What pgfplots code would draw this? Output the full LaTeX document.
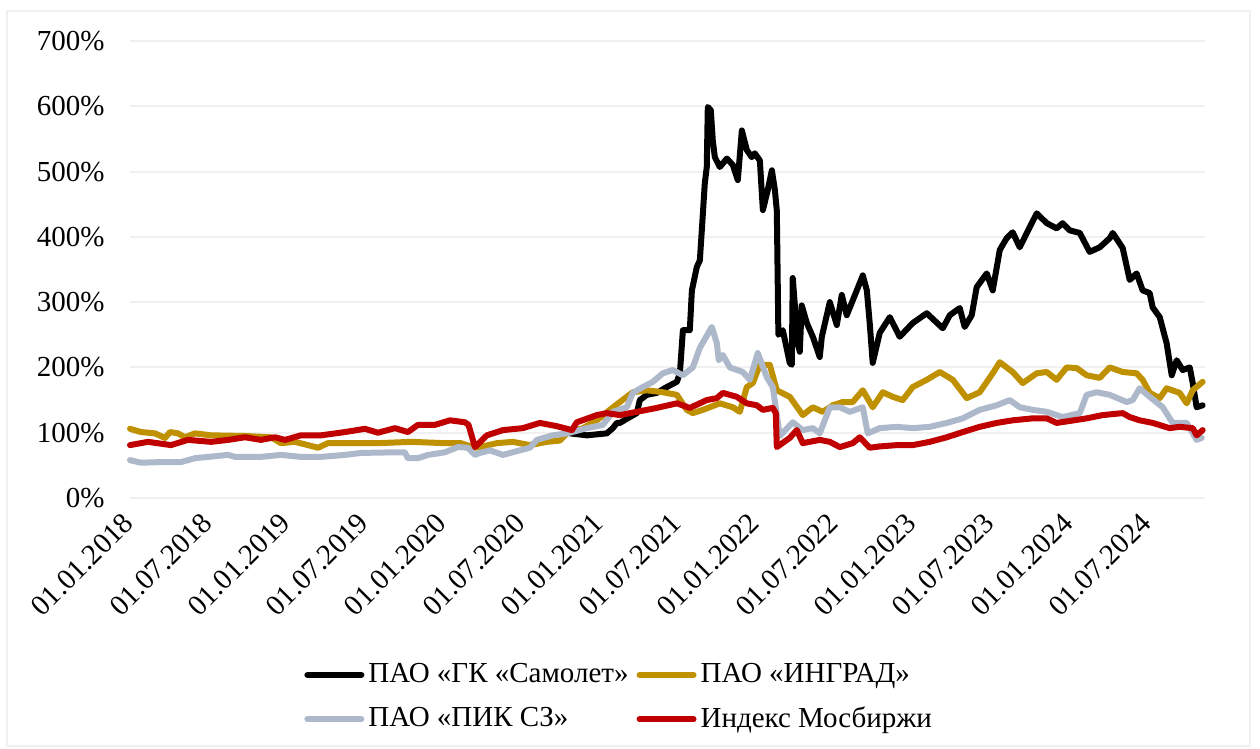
\documentclass[border=0pt]{standalone}
\usepackage{fontspec}
\setmainfont{Liberation Serif}
\usepackage{pgfplots}
\pgfplotsset{compat=1.18}
\definecolor{cgold}{HTML}{BF9000}
\definecolor{cgray}{HTML}{ADB9CA}
\definecolor{cred}{HTML}{C00000}
\definecolor{cgrid}{HTML}{F0F0F0}
\definecolor{caxis}{HTML}{D9D9D9}
\begin{document}
\fontsize{14.5}{17}\selectfont
\begin{tikzpicture}[font=\fontsize{14.5}{17}\selectfont]
\path[use as bounding box] (-65pt,-125.5pt) rectangle (565pt,249pt);
\begin{axis}[
  at={(0pt,0pt)}, anchor=south west,
  scale only axis, width=537.5pt, height=228.5pt,
  xmin=0, xmax=82.4, ymin=0, ymax=700,
  clip=false,
  axis line style={draw=none},
  major tick length=0pt,
  ytick={100,200,300,400,500,600,700},
  yticklabels={100\%,200\%,300\%,400\%,500\%,600\%,700\%},
  extra y ticks={0},
  extra y tick labels={0\%},
  extra y tick style={grid style={color=caxis, line width=1pt}},
  ymajorgrids,
  major grid style={color=cgrid, line width=1pt},
  yticklabel style={inner sep=0pt, xshift=-12.5pt},
  xtick={0,6,12,18,24,30,36,42,48,54,60,66,72,78},
  xticklabels={01.01.2018,01.07.2018,01.01.2019,01.07.2019,01.01.2020,01.07.2020,01.01.2021,01.07.2021,01.01.2022,01.07.2022,01.01.2023,01.07.2023,01.01.2024,01.07.2024},
  xticklabel style={rotate=45, anchor=north east, inner sep=0pt, xshift=-7.6pt, yshift=-1.5pt},
  tick label style={font=\fontsize{14.5}{17}\selectfont},
  legend columns=2,
  legend cell align=left,
  legend style={at={(0.456,-0.4365)}, anchor=center, draw=none, fill=none,
    font=\fontsize{14.5}{17}\selectfont, inner sep=0pt,
    nodes={inner xsep=2pt, inner ysep=2pt},
    row sep=6pt,
    /tikz/every even column/.append style={column sep=2pt}},
  legend image code/.code={\draw[#1] (0pt,0pt) -- (27pt,0pt);},
  every axis plot/.append style={line width=3pt, line join=round, line cap=round},
]
\addplot[black] coordinates {
(33.72,99) (35.02,96) (36.55,99) (37.01,107) (37.32,115) (37.55,115) (38.31,124) (38.85,130) (39.08,150) (39.62,158) (40.38,161) (41.15,170) (41.92,178) (42.15,191) (42.38,257) (42.91,257) (43.07,318) (43.45,354) (43.68,364) (43.83,410) (44.06,482) (44.21,507) (44.29,599) (44.52,594) (44.67,548) (44.83,522) (45.21,507) (45.75,520) (46.21,510) (46.59,487) (46.90,563) (47.28,533) (47.66,522) (47.89,528) (48.28,517) (48.51,441) (48.89,472) (49.20,502) (49.43,472) (49.58,440) (49.70,250) (50.04,257) (50.57,207) (50.73,204) (50.80,337) (51.19,237) (51.34,224) (51.49,295) (51.88,268) (52.34,247) (52.87,216) (53.03,247) (53.64,300) (54.18,265) (54.56,311) (54.94,280) (55.71,318) (56.17,341) (56.48,318) (56.70,268) (56.93,207) (57.47,253) (58.24,277) (59.00,247) (60.00,268) (61.07,283) (62.30,260) (62.84,280) (63.60,291) (63.98,262) (64.52,280) (64.90,323) (65.67,344) (66.13,318) (66.67,380) (67.20,398) (67.66,407) (68.20,384) (68.97,415) (69.50,436) (70.27,421) (71.03,413) (71.49,421) (72.03,410) (72.80,406) (73.56,377) (74.33,384) (75.10,398) (75.33,406) (76.09,383) (76.63,334) (77.16,344) (77.62,318) (78.16,314) (78.39,292) (78.93,277) (79.46,237) (79.85,188) (80.23,211) (80.69,196) (81.23,200) (81.46,176) (81.76,139) (82.22,142)
};
\addlegendentry{ПАО «ГК «Самолет»}
\addplot[cgold] coordinates {
(0,106) (0.84,101) (1.92,99) (2.68,92) (3.07,101) (3.68,99) (4.21,93) (4.98,99) (6.21,96) (8.81,95) (10.80,93) (11.57,84) (12.64,86) (13.64,81) (14.41,77) (15.17,84) (16.48,84) (19.00,84) (21.53,86) (24.14,84) (25.36,84) (26.44,77) (26.82,78) (28.12,84) (29.35,86) (30.65,81) (31.95,86) (32.95,88) (33.49,99) (34.71,107) (35.79,119) (36.78,135) (37.55,147) (38.54,162) (39.62,165) (40.84,162) (41.92,158) (42.68,135) (43.14,130) (43.91,135) (45.21,145) (46.21,139) (46.74,132) (47.28,170) (47.74,176) (48.28,204) (49.04,204) (49.58,165) (50.57,155) (51.57,127) (52.34,139) (53.10,132) (53.87,142) (54.64,147) (55.40,147) (56.17,165) (56.93,139) (57.70,162) (58.47,155) (59.23,150) (60.00,170) (61.07,181) (62.07,193) (63.07,181) (64.14,153) (65.13,162) (66.13,191) (66.67,208) (67.66,193) (68.43,176) (69.50,191) (70.27,193) (71.03,181) (71.80,200) (72.57,199) (73.33,188) (74.33,184) (75.10,200) (76.09,193) (77.16,191) (77.62,181) (78.16,161) (78.93,153) (79.46,168) (80.46,161) (81.00,145) (81.46,165) (82.22,178)
};
\addlegendentry{ПАО «ИНГРАД»}
\addplot[cgray] coordinates {
(0,58) (0.84,54) (2.38,55) (3.91,55) (4.98,61) (7.51,66) (8.05,63) (10.04,63) (11.57,66) (13.10,63) (14.64,63) (16.48,66) (17.70,69) (20.31,70) (21.07,70) (21.30,61) (22.07,61) (22.84,66) (24.14,70) (25.13,78) (25.90,77) (26.44,66) (26.82,69) (27.59,73) (28.58,66) (29.89,73) (30.65,77) (31.19,89) (32.41,96) (33.49,99) (35.02,107) (36.25,112) (37.01,132) (38.08,139) (38.54,161) (39.31,170) (40.08,178) (40.84,191) (41.61,196) (42.38,188) (43.14,200) (43.68,230) (44.60,262) (44.98,237) (45.13,211) (45.44,219) (45.98,200) (46.97,193) (47.51,181) (48.12,222) (48.81,185) (49.27,170) (49.81,95) (50.80,116) (51.57,104) (52.34,107) (52.87,99) (53.64,139) (54.41,139) (55.17,132) (56.17,139) (56.55,99) (57.47,107) (58.77,109) (60.00,107) (61.30,109) (62.61,115) (63.83,122) (65.13,135) (66.44,142) (67.43,150) (68.20,139) (69.20,135) (70.27,132) (71.49,124) (72.80,130) (73.33,158) (74.10,162) (75.10,158) (76.40,147) (76.86,150) (77.39,168) (78.16,155) (79.16,139) (79.92,115) (81.00,115) (81.76,89) (82.15,92)
};
\addlegendentry{ПАО «ПИК СЗ»}
\addplot[cred] coordinates {
(0,81) (1.38,86) (3.14,81) (4.44,89) (6.21,86) (7.51,89) (8.81,93) (10.04,89) (11.11,93) (11.88,89) (13.10,96) (14.64,96) (16.48,101) (18.01,106) (19.00,100) (20.31,107) (21.30,101) (22.07,112) (23.37,112) (24.52,119) (25.67,116) (25.95,112) (26.44,78) (27.36,96) (28.58,104) (30.11,107) (31.42,115) (32.72,110) (33.87,104) (34.25,116) (35.79,127) (36.55,130) (37.55,127) (38.85,132) (40.38,138) (41.92,145) (42.91,138) (44.21,150) (44.98,153) (45.44,161) (46.51,155) (47.28,145) (48.05,142) (48.51,135) (49.27,138) (49.50,130) (49.58,78) (50.57,92) (51.11,104) (51.57,84) (52.87,89) (53.64,86) (54.41,78) (55.40,84) (55.94,93) (56.70,77) (57.47,79) (58.77,81) (60.00,81) (61.30,86) (62.61,93) (63.83,101) (65.13,109) (66.44,115) (67.66,119) (69.20,122) (70.27,122) (71.03,115) (72.03,118) (73.33,122) (74.56,127) (76.09,130) (76.63,124) (77.39,119) (78.39,115) (79.69,107) (80.46,109) (81.46,107) (81.76,96) (82.22,104)
};
\addlegendentry{Индекс Мосбиржи}
\end{axis}
\draw[color=cgrid, line width=1pt] (-61.5pt,243.5pt) rectangle (560pt,-124pt);
\end{tikzpicture}
\end{document}
